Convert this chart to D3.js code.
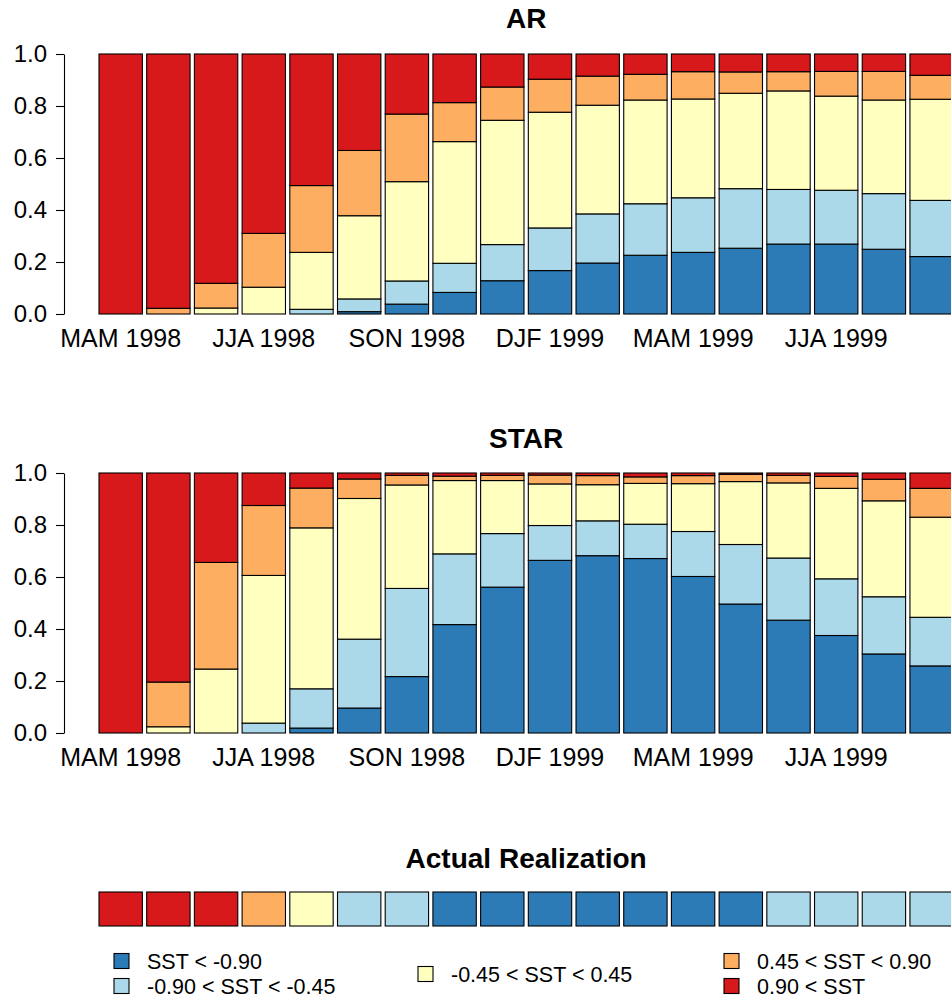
<!DOCTYPE html>
<html>
<head>
<meta charset="utf-8">
<script src="https://cdn.jsdelivr.net/npm/d3@7"></script>
<style>
  html, body { margin: 0; padding: 0; background: #fff; }
  svg { display: block; font-family: "Liberation Sans", Arial, sans-serif; }
</style>
</head>
<body>
<div id="chart"></div>
<script>
// ---- data ----
const categories = ["MAM 1998","AMJ 1998","MJJ 1998","JJA 1998","JAS 1998","ASO 1998","SON 1998","OND 1998","NDJ 1998",
  "DJF 1999","JFM 1999","FMA 1999","MAM 1999","AMJ 1999","MJJ 1999","JJA 1999","JAS 1999","ASO 1999"];
const classLabels = ["SST < -0.90", "-0.90 < SST < -0.45", "-0.45 < SST < 0.45", "0.45 < SST < 0.90", "0.90 < SST"];
const classColors = ["#2C7BB6", "#ABD9E9", "#FFFFBF", "#FDAE61", "#D7191C"];
const yTicks = [0, 0.2, 0.4, 0.6, 0.8, 1.0];

// AR forecast probabilities
const arBlue   = [0,0,0,0,0,0.009,0.038,0.083,0.128,0.167,0.196,0.226,0.237,0.253,0.269,0.269,0.249,0.221];
const arLBlue  = [0,0,0,0,0.018,0.049,0.089,0.112,0.139,0.164,0.189,0.198,0.210,0.229,0.210,0.207,0.214,0.216];
const arYellow = [0,0,0.023,0.103,0.219,0.320,0.382,0.468,0.478,0.445,0.418,0.399,0.380,0.367,0.379,0.362,0.360,0.389];
const arOrange = [0,0.022,0.095,0.207,0.257,0.251,0.260,0.150,0.128,0.127,0.112,0.099,0.105,0.082,0.074,0.095,0.110,0.092];
const arRed    = [1,0.978,0.882,0.690,0.506,0.371,0.231,0.187,0.127,0.097,0.085,0.078,0.068,0.069,0.068,0.067,0.067,0.082];

// STAR forecast probabilities
const starBlue   = [0,0,0,0,0.019,0.096,0.217,0.417,0.561,0.664,0.682,0.671,0.602,0.496,0.434,0.375,0.304,0.258];
const starLBlue  = [0,0,0,0.038,0.151,0.265,0.339,0.272,0.206,0.134,0.134,0.132,0.173,0.229,0.239,0.218,0.220,0.187];
const starYellow = [0,0.024,0.246,0.568,0.619,0.541,0.398,0.282,0.204,0.160,0.139,0.157,0.184,0.242,0.289,0.348,0.369,0.385];
const starOrange = [0,0.172,0.410,0.269,0.153,0.075,0.037,0.017,0.020,0.034,0.035,0.025,0.031,0.028,0.029,0.046,0.083,0.111];
const starRed    = [1,0.804,0.344,0.125,0.058,0.023,0.009,0.012,0.009,0.008,0.010,0.015,0.010,0.005,0.009,0.013,0.024,0.059];

// Actual realization class index (0 = SST < -0.90 ... 4 = 0.90 < SST)
const actualClass = [4,4,4,3,2,1,1,0,0,0,0,0,0,0,1,1,1,1];

// ---- layout ----
const W = 951, H = 1003;
const svg = d3.select("#chart").append("svg").attr("width", W).attr("height", H);

const x = d3.scaleBand().domain(categories).range([99, 953.3])
  .paddingInner(0.1 / 1.1).paddingOuter(0);
const cx = (99 + 953.3) / 2;
const keys = ["c0","c1","c2","c3","c4"];

function panel(title, series, top, bottom, titleY) {
  const y = d3.scaleLinear().domain([0, 1]).range([bottom, top]);
  const rows = categories.map((c, i) => {
    const r = { cat: c };
    series.forEach((s, k) => r[keys[k]] = s[i]);
    return r;
  });
  const stacked = d3.stack().keys(keys)(rows);
  const g = svg.append("g");
  g.selectAll("g.layer").data(stacked).join("g")
    .attr("fill", (d, k) => classColors[k])
    .selectAll("rect").data(d => d).join("rect")
      .attr("x", d => x(d.data.cat))
      .attr("width", x.bandwidth())
      .attr("y", d => y(d[1]))
      .attr("height", d => Math.max(0, y(d[0]) - y(d[1])))
      .attr("stroke", "#000")
      .attr("stroke-width", 1.1);

  const yAxis = d3.axisLeft(y).tickValues(yTicks).tickFormat(d3.format(".1f"))
    .tickSize(8).tickSizeOuter(0).tickPadding(9);
  const ya = svg.append("g").attr("transform", "translate(64,0)").call(yAxis);
  ya.selectAll("text").attr("font-size", 24).attr("fill", "#000")
    .attr("font-family", "Liberation Sans, Arial, sans-serif");
  ya.selectAll("line, path").attr("stroke", "#000").attr("stroke-width", 1.1);

  const xAxis = d3.axisBottom(x).tickValues(categories.filter((c, i) => i % 3 === 0))
    .tickSize(0).tickPadding(15);
  const xa = svg.append("g").attr("transform", `translate(0,${bottom})`).call(xAxis);
  xa.select(".domain").remove();
  xa.selectAll("text").attr("font-size", 25).attr("fill", "#000")
    .attr("font-family", "Liberation Sans, Arial, sans-serif");

  svg.append("text").attr("x", cx).attr("y", titleY).attr("text-anchor", "middle")
    .attr("font-size", 28).attr("font-weight", "bold").text(title);
}

panel("AR", [arBlue, arLBlue, arYellow, arOrange, arRed], 54, 314, 28);
panel("STAR", [starBlue, starLBlue, starYellow, starOrange, starRed], 473, 733, 448);

// Actual realization
svg.append("text").attr("x", cx).attr("y", 868).attr("text-anchor", "middle")
  .attr("font-size", 28).attr("font-weight", "bold").text("Actual Realization");
svg.append("g").selectAll("rect").data(categories).join("rect")
  .attr("x", d => x(d)).attr("width", x.bandwidth())
  .attr("y", 892).attr("height", 34)
  .attr("fill", (d, i) => classColors[actualClass[i]])
  .attr("stroke", "#000").attr("stroke-width", 1.1);

// Legend
const legendPos = [
  { k: 0, x: 114, y: 961 },
  { k: 1, x: 114, y: 986 },
  { k: 2, x: 418, y: 974 },
  { k: 3, x: 724, y: 961 },
  { k: 4, x: 724, y: 986 }
];
const lg = svg.append("g").selectAll("g").data(legendPos).join("g")
  .attr("transform", d => `translate(${d.x},${d.y})`);
lg.append("rect").attr("x", 0).attr("y", -7.5).attr("width", 15).attr("height", 15)
  .attr("fill", d => classColors[d.k]).attr("stroke", "#000").attr("stroke-width", 1.1);
lg.append("text").attr("x", 33).attr("y", 0).attr("dy", "0.36em")
  .attr("font-size", 21.5).attr("fill", "#000").text(d => classLabels[d.k]);
</script>
</body>
</html>
